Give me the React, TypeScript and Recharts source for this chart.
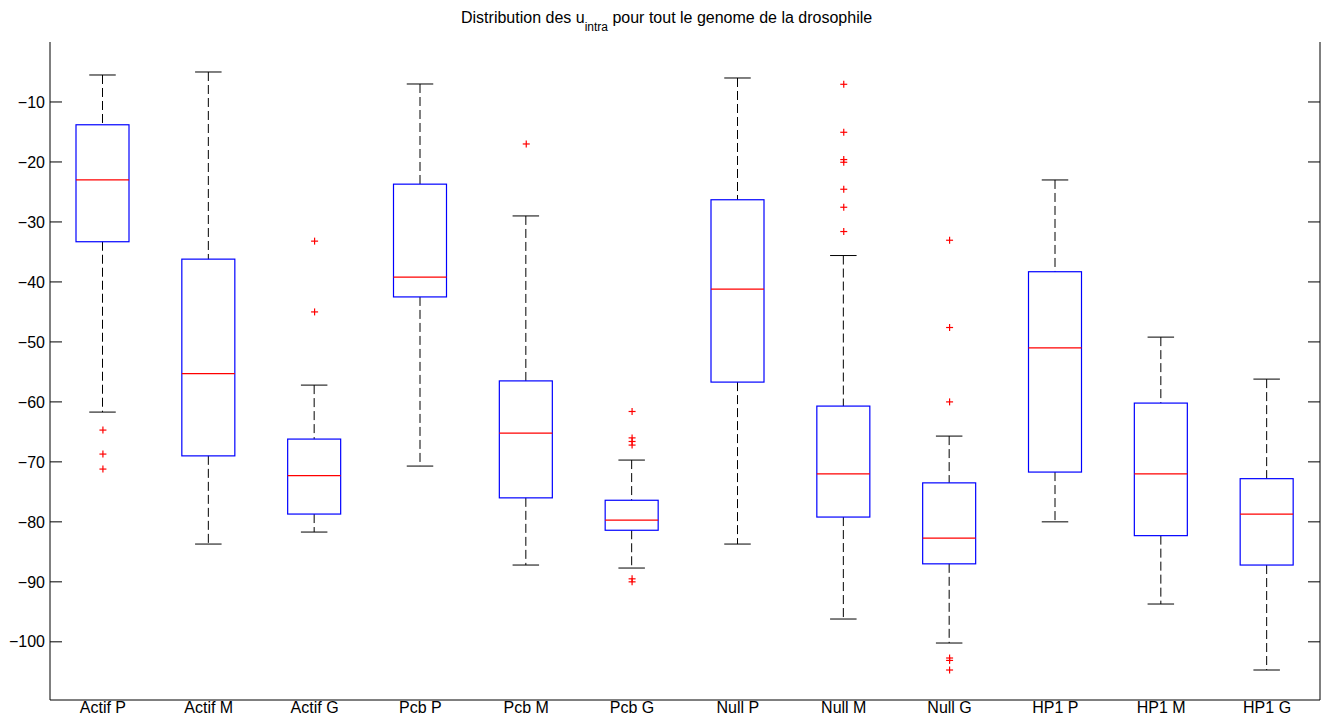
import React from 'react';
import { ComposedChart, Bar, Scatter, XAxis, YAxis } from 'recharts';

const CATEGORIES = ['Actif P', 'Actif M', 'Actif G', 'Pcb P', 'Pcb M', 'Pcb G', 'Null P', 'Null M', 'Null G', 'HP1 P', 'HP1 M', 'HP1 G'];
const WHISKER_HIGH = [-5.5, -5, -57.2, -7, -29, -69.7, -6, -35.6, -65.7, -23, -49.2, -56.2];
const Q3 = [-13.8, -36.2, -66.2, -23.7, -56.5, -76.4, -26.3, -60.7, -73.5, -38.3, -60.2, -72.8];
const MEDIAN = [-23, -55.3, -72.3, -39.2, -65.2, -79.7, -41.2, -72, -82.7, -51, -72, -78.7];
const Q1 = [-33.3, -69, -78.7, -42.5, -76, -81.4, -56.7, -79.2, -87, -71.7, -82.3, -87.2];
const WHISKER_LOW = [-61.7, -83.7, -81.7, -70.7, -87.2, -87.7, -83.7, -96.2, -100.2, -80, -93.7, -104.7];
const OUTLIERS: number[][] = [
  [-64.7, -68.7, -71.2],
  [],
  [-33.2, -45],
  [],
  [-17],
  [-61.6, -66, -66.6, -67.2, -89.5, -90],
  [],
  [-7.05, -15.05, -19.6, -20.05, -24.55, -27.55, -31.6],
  [-33.05, -47.6, -60, -102.7, -103.1, -104.7],
  [],
  [],
  [],
];
const Y_TICKS = [-100, -90, -80, -70, -60, -50, -40, -30, -20, -10];
const Y_DOMAIN: [number, number] = [-109.7, 0];

const MAX_OUT = Math.max(...OUTLIERS.map((o) => o.length));
const OUT_KEYS = Array.from({ length: MAX_OUT }, (_, j) => 'o' + j);

const rows = CATEGORIES.map((name, i) => {
  const r: any = { name, hi: WHISKER_HIGH[i], q3: Q3[i], med: MEDIAN[i], q1: Q1[i], lo: WHISKER_LOW[i] };
  OUTLIERS[i].forEach((v, j) => {
    r['o' + j] = v;
  });
  return r;
});

const FONT = '"Liberation Sans", Arial, Helvetica, sans-serif';

const BoxShape = (props: any) => {
  const { x, y, width, height, payload } = props;
  if (!payload || !isFinite(y) || !isFinite(height)) return <g />;
  const top = Math.min(y, y + height);
  const bot = Math.max(y, y + height);
  const ppu = (bot - top) / (payload.hi - payload.lo);
  const py = (v: number) => top + (payload.hi - v) * ppu;
  const cx = x + width / 2;
  const cap = width / 4;
  return (
    <g>
      <line x1={cx} x2={cx} y1={py(payload.hi)} y2={py(payload.q3)} stroke="#000" strokeWidth={1} strokeDasharray="9 4" />
      <line x1={cx} x2={cx} y1={py(payload.q1)} y2={py(payload.lo)} stroke="#000" strokeWidth={1} strokeDasharray="9 4" />
      <line x1={cx - cap} x2={cx + cap} y1={py(payload.hi)} y2={py(payload.hi)} stroke="#000" strokeWidth={1} />
      <line x1={cx - cap} x2={cx + cap} y1={py(payload.lo)} y2={py(payload.lo)} stroke="#000" strokeWidth={1} />
      <rect x={x} y={py(payload.q3)} width={width} height={py(payload.q1) - py(payload.q3)} fill="none" stroke="#0000ff" strokeWidth={1.2} />
      <line x1={x} x2={x + width} y1={py(payload.med)} y2={py(payload.med)} stroke="#ff0000" strokeWidth={1.2} />
    </g>
  );
};

const makePlus = (key: string) => (props: any) => {
  const { cx, cy, payload } = props;
  if (!payload || payload[key] == null || !isFinite(cx) || !isFinite(cy)) return <g />;
  const s = 3.5;
  return (
    <g>
      <line x1={cx - s} x2={cx + s} y1={cy} y2={cy} stroke="#ff0000" strokeWidth={1.2} />
      <line x1={cx} x2={cx} y1={cy - s} y2={cy + s} stroke="#ff0000" strokeWidth={1.2} />
    </g>
  );
};

const fmt = (v: number) => String(v).replace('-', '\u2212');

const LeftTick = (props: any) => {
  const { x, y, payload } = props;
  return (
    <g>
      <line x1={x + 5} x2={x + 17} y1={y} y2={y} stroke="#000" strokeWidth={1} />
      <text x={x} y={y} dy="0.355em" textAnchor="end" fontSize={16} fontFamily={FONT} fill="#000">
        {fmt(payload.value)}
      </text>
    </g>
  );
};

const RightTick = (props: any) => {
  const { x, y } = props;
  return <line x1={x} x2={x - 12} y1={y} y2={y} stroke="#000" strokeWidth={1} />;
};

const BottomTick = (props: any) => {
  const { x, y, payload } = props;
  return (
    <text x={x} y={y} dy="0.71em" textAnchor="middle" fontSize={16} fontFamily={FONT} fill="#000">
      {payload.value}
    </text>
  );
};

export default function App() {
  return (
    <div style={{ position: 'absolute', left: 0, top: 0, width: 1325, height: 719, background: '#fff' }}>
      <ComposedChart width={1325} height={719} data={rows} margin={{ top: 42, right: 0, bottom: 0, left: 0 }}>
        <XAxis dataKey="name" type="category" height={19} tickLine={false} tickSize={0} tickMargin={2} axisLine={{ stroke: '#000', strokeWidth: 1 }} tick={<BottomTick />} interval={0} />
        <XAxis xAxisId="top" dataKey="name" type="category" orientation="top" height={0} tick={false} tickLine={false} axisLine={{ stroke: '#000', strokeWidth: 1 }} />
        <YAxis type="number" domain={Y_DOMAIN} allowDataOverflow ticks={Y_TICKS} width={50} tickSize={0} tickMargin={5} tickLine={false} axisLine={{ stroke: '#000', strokeWidth: 1 }} tick={<LeftTick />} interval={0} />
        <YAxis yAxisId="right" orientation="right" type="number" domain={Y_DOMAIN} allowDataOverflow ticks={Y_TICKS} width={5} tickSize={0} tickMargin={0} tickLine={false} axisLine={{ stroke: '#000', strokeWidth: 1 }} tick={<RightTick />} interval={0} />
        <Bar dataKey={(d: any) => [d.lo, d.hi]} barSize={53} shape={<BoxShape />} isAnimationActive={false} />
        {OUT_KEYS.map((k) => (
          <Scatter key={k} dataKey={k} shape={makePlus(k)} isAnimationActive={false} />
        ))}
      </ComposedChart>
      <svg width={1325} height={40} style={{ position: 'absolute', left: 0, top: 0, pointerEvents: 'none' }}>
        <text x={461} y={23.3} fontSize={16} fontFamily={FONT} fill="#000">
          Distribution des u
          <tspan dy={8} fontSize={12}>intra</tspan>
          <tspan dy={-8} fontSize={16}>{' pour tout le genome de la drosophile'}</tspan>
        </text>
      </svg>
    </div>
  );
}
